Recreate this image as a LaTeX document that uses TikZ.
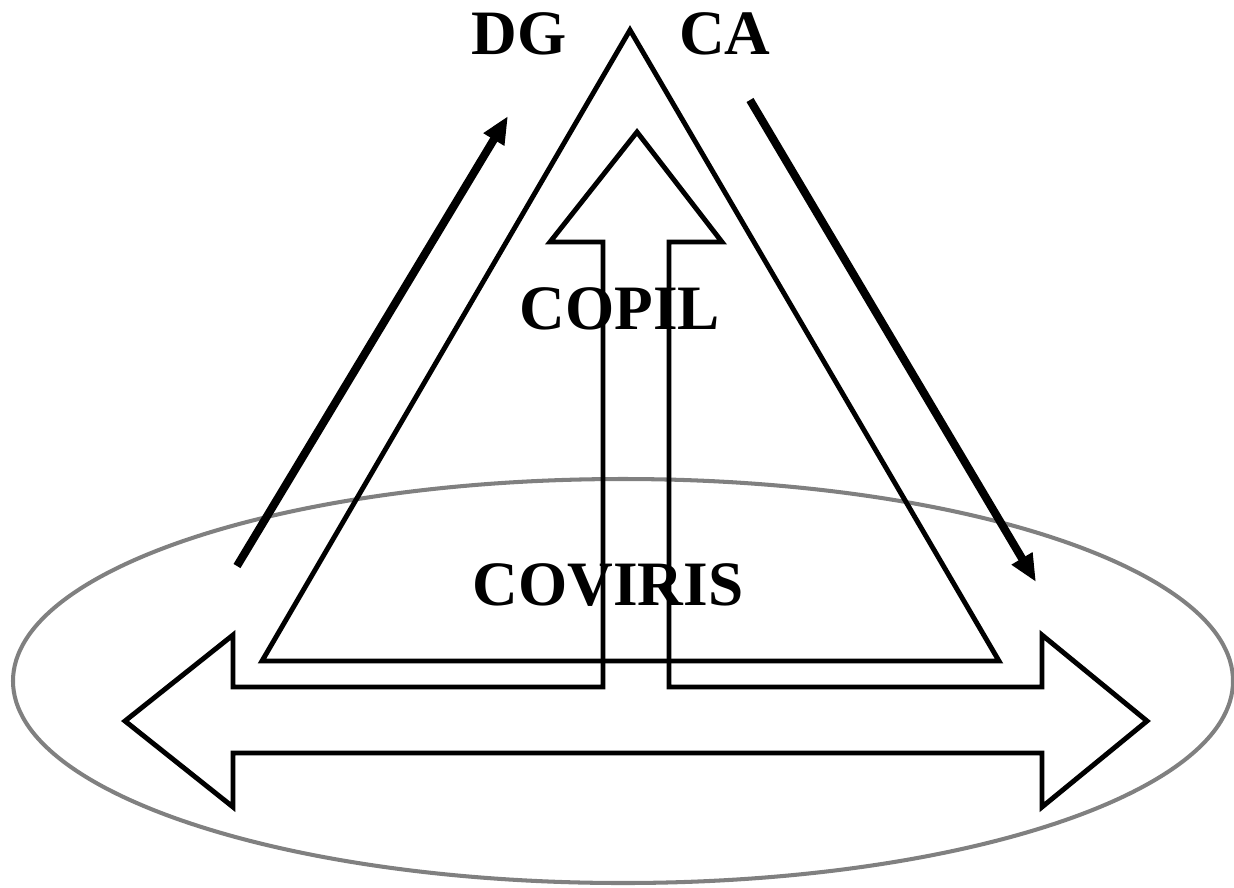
\documentclass[tikz,border=0pt]{standalone}
\usepackage{fontspec}
\setmainfont{Liberation Serif}
\usetikzlibrary{arrows.meta}
\begin{document}
\begin{tikzpicture}[x=0.02cm,y=-0.02cm,
  outline/.style={draw=black,line width=2.8pt,line join=miter},
  flowarrow/.style={draw=black,line width=4.6pt,-{Triangle[length=0.55cm,width=0.45cm]}},
  zone/.style={draw=black!50,line width=2.3pt},
  label/.style={font=\fontsize{36}{40}\selectfont\bfseries,inner sep=0pt}]
\useasboundingbox (0,0) rectangle (1234,887);
% ellipse
\draw[zone] (623,681) ellipse [x radius=610, y radius=202];
% triangle
\draw[outline] (630,30) -- (999,661) -- (262,661) -- cycle;
% combined arrow outline
\draw[outline] (603,242) -- (603,687) -- (233,687) -- (233,635) -- (125,721)
  -- (233,807) -- (233,753) -- (1042,753) -- (1042,807) -- (1147,721)
  -- (1042,635) -- (1042,687) -- (669,687) -- (669,242) -- (722,242)
  -- (637,132) -- (550,242) -- cycle;
% labels
\node[label] (dg) at (519,34) {DG};
\node[label] (ca) at (725,34) {CA};
\node[label] (copil) at (620,309) {COPIL};
\node[label] (coviris) at (608,585) {COVIRIS};
% diagonal arrows
\coordinate (a1s) at (237,566);
\coordinate (a1e) at (508,116);
\coordinate (a2s) at (750,100);
\coordinate (a2e) at (1036,582);
\draw[flowarrow] (a1s) -- (a1e);
\draw[flowarrow] (a2s) -- (a2e);
\end{tikzpicture}
\end{document}
